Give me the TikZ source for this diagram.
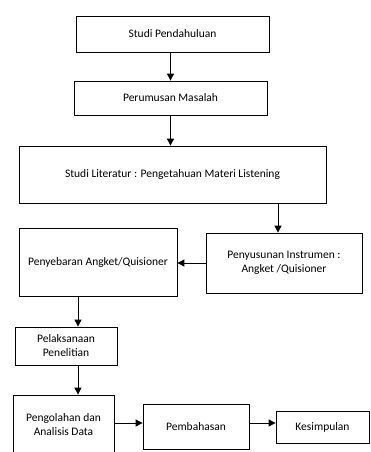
\documentclass[tikz,border=0pt]{standalone}
\usepackage{fontspec}
\setmainfont{Carlito}
\usetikzlibrary{arrows.meta}

\begin{document}
\begin{tikzpicture}[x=1pt,y=-1pt,
    kotak/.style={draw,line width=0.8pt,align=center,inner sep=0pt,font=\fontsize{11.5}{14}\selectfont},
    panah/.style={line width=0.9pt,-{Triangle[length=7pt,width=7pt]}}]
    % batas gambar
    \clip (0,0) rectangle (370,452);

    % kotak-kotak
    \node[kotak,minimum width=193,minimum height=36] (pendahuluan) at (172.5,34) {Studi Pendahuluan};
    \node[kotak,minimum width=193,minimum height=34] (masalah) at (170.5,98) {Perumusan Masalah};
    \node[kotak,minimum width=307,minimum height=57] (literatur) at (172.5,174.5) {Studi Literatur : Pengetahuan Materi Listening};
    \node[kotak,minimum width=158,minimum height=68] (penyebaran) at (98,262) {Penyebaran Angket/Quisioner};
    \node[kotak,minimum width=156,minimum height=60] (instrumen) at (284,263) {Penyusunan Instrumen :\\Angket /Quisioner};
    \node[kotak,minimum width=102,minimum height=38] (pelaksanaan) at (66,346) {Pelaksanaan\\Penelitian};
    \node[kotak,minimum width=101,minimum height=60] (pengolahan) at (63.5,425) {Pengolahan dan\\Analisis Data};
    \node[kotak,minimum width=106,minimum height=45] (pembahasan) at (196,426.5) {Pembahasan};
    \node[kotak,minimum width=93,minimum height=32] (kesimpulan) at (322.5,427) {Kesimpulan};

    % titik bantu
    \coordinate (kiri) at (78,0);
    \coordinate (kanan) at (278,0);

    % panah
    \draw[panah] (masalah.north |- pendahuluan.south) -- (masalah.north);
    \draw[panah] (masalah.south) -- (masalah.south |- literatur.north);
    \draw[panah] (kanan |- literatur.south) -- (kanan |- instrumen.north);
    \draw[panah] (instrumen.west) -- (instrumen.west -| penyebaran.east);
    \draw[panah] (kiri |- penyebaran.south) -- (kiri |- pelaksanaan.north);
    \draw[panah] (kiri |- pelaksanaan.south) -- (kiri |- pengolahan.north);
    \draw[panah] (pengolahan.east |- 0,423) -- (pembahasan.west |- 0,423);
    \draw[panah] (pembahasan.east |- 0,423) -- (kesimpulan.west |- 0,423);
\end{tikzpicture}
\end{document}
